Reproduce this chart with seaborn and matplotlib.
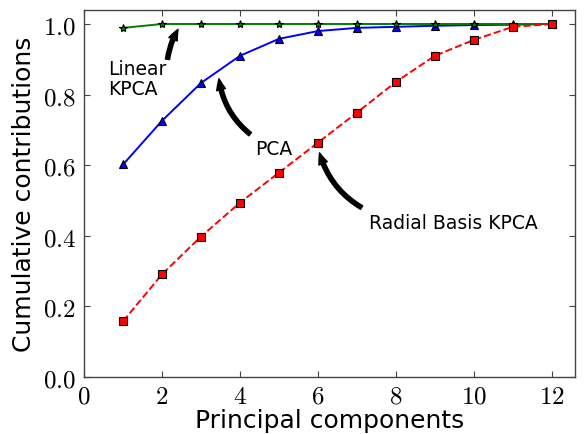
import numpy as np
import pandas as pd
import matplotlib
matplotlib.use("Agg")
import matplotlib.pyplot as plt
import seaborn as sns

components = [1, 2, 3, 4, 5, 6, 7, 8, 9, 10, 11, 12]
pca_values = [0.602, 0.726, 0.833, 0.910, 0.958, 0.980, 0.989, 0.992, 0.995, 0.997, 0.998, 1.0]
linear_kpca_values = [0.989, 1.0, 1.0, 1.0, 1.0, 1.0, 1.0, 1.0, 1.0, 1.0, 1.0, 1.0]
rbf_kpca_values = [0.158, 0.291, 0.398, 0.494, 0.579, 0.664, 0.749, 0.836, 0.910, 0.955, 0.992, 1.0]
x_ticks = [0, 2, 4, 6, 8, 10, 12]
y_ticks = [0.0, 0.2, 0.4, 0.6, 0.8, 1.0]

sns.set_style("ticks")
plt.rcParams["font.family"] = ["DejaVu Sans"]
plt.rcParams["mathtext.fontset"] = "cm"
plt.rcParams["text.color"] = "black"
plt.rcParams["axes.labelcolor"] = "black"
plt.rcParams["xtick.labelcolor"] = "black"
plt.rcParams["ytick.labelcolor"] = "black"

fig, ax = plt.subplots(figsize=(5.84, 4.35), dpi=100)
fig.subplots_adjust(left=0.144, right=0.985, bottom=0.131, top=0.975)

df = pd.DataFrame({"x": components, "pca": pca_values,
                   "lin": linear_kpca_values, "rbf": rbf_kpca_values})

sns.lineplot(data=df, x="x", y="pca", ax=ax, color="blue", lw=1.4,
             marker="^", markersize=6, markeredgecolor="black", markeredgewidth=0.8)
sns.lineplot(data=df, x="x", y="lin", ax=ax, color="green", lw=1.4,
             marker="*", markersize=6, markeredgecolor="black", markeredgewidth=0.8)
sns.lineplot(data=df, x="x", y="rbf", ax=ax, color="red", lw=1.4, linestyle="--",
             marker="s", markersize=5.5, markeredgecolor="black", markeredgewidth=0.8)

ax.set_xlim(0, 12.6)
ax.set_ylim(0, 1.04)
ax.set_xticks(x_ticks)
ax.set_yticks(y_ticks)
ax.set_xticklabels([f"${t}$" for t in x_ticks], fontsize=18)
ax.set_yticklabels([f"${t:.1f}$" for t in y_ticks], fontsize=18)
ax.tick_params(direction="in", top=True, right=True, length=4, width=0.8,
               color="#444444", labelcolor="black")
ax.tick_params(axis="x", pad=5)
ax.tick_params(axis="y", pad=6)
for s in ax.spines.values():
    s.set_color("#444444")
    s.set_linewidth(1.0)

ax.set_xlabel("Principal components", fontsize=18, labelpad=0, color="black")
ax.set_ylabel("Cumulative contributions", fontsize=18, labelpad=5, color="black")

arrow = dict(arrowstyle="simple,head_length=0.8,head_width=0.65,tail_width=0.3",
             color="black", shrinkA=0, shrinkB=0)

ax.annotate("", xy=(2.41, 0.985), xytext=(2.14, 0.9),
            arrowprops=dict(**arrow, connectionstyle="arc3,rad=-0.1"), annotation_clip=False)
ax.text(0.62, 0.845, "Linear\nKPCA", fontsize=13.5, ha="left", va="center",
        linespacing=1.1, color="black")

ax.annotate("", xy=(3.46, 0.845), xytext=(4.26, 0.688),
            arrowprops=dict(**arrow, connectionstyle="arc3,rad=-0.2"))
ax.text(4.4, 0.648, "PCA", fontsize=13.5, ha="left", va="center", color="black")

ax.annotate("", xy=(6.04, 0.635), xytext=(7.12, 0.48),
            arrowprops=dict(**arrow, connectionstyle="arc3,rad=-0.2"))
ax.text(7.3, 0.438, "Radial Basis KPCA", fontsize=13.5, ha="left", va="center", color="black")

fig.savefig("out.png", dpi=100)
